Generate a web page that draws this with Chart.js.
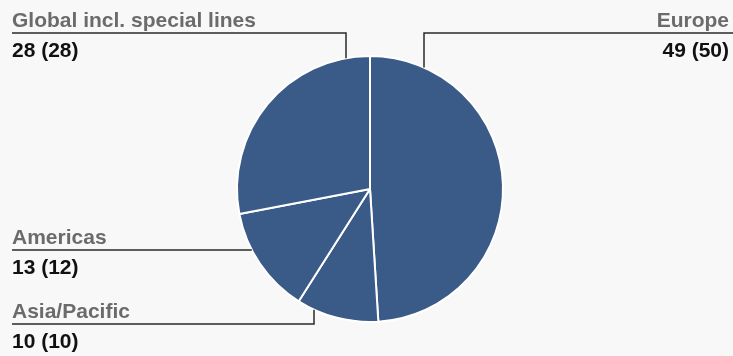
<!DOCTYPE html>
<html>
<head>
<meta charset="utf-8">
<script src="https://cdn.jsdelivr.net/npm/chart.js@4/dist/chart.umd.min.js"></script>
<style>
  html, body { margin: 0; padding: 0; background: #f8f8f8; }
  #wrap { width: 733px; height: 356px; }
</style>
</head>
<body>
<div id="wrap"><canvas id="pie" width="733" height="356"></canvas></div>
<script>
// --- data (share in %, previous year in brackets) ---
const regions = ['Europe', 'Asia/Pacific', 'Americas', 'Global incl. special lines'];
const shares = [49, 10, 13, 28];
const sharesPrev = [50, 10, 12, 28];

// label placement: where the text sits and where the leader bends
const labelLayout = [
    { align: 'right', textX: 729, lineY: 33, lineFrom: 424, elbowX: 424 },   // Europe
    { align: 'left',  textX: 12,  lineY: 324, lineFrom: 12, elbowX: 314 },   // Asia/Pacific
    { align: 'left',  textX: 12,  lineY: 250, lineFrom: 12, elbowX: null },  // Americas
    { align: 'left',  textX: 12,  lineY: 33,  lineFrom: 12, elbowX: 346 }    // Global
];

const leaderLabels = {
    id: 'leaderLabels',
    afterDatasetsDraw(chart) {
        const ctx = chart.ctx;
        const arcs = chart.getDatasetMeta(0).data;
        if (!arcs.length) return;
        const cx = arcs[0].x, cy = arcs[0].y, r = arcs[0].outerRadius;

        ctx.save();
        labelLayout.forEach((lay, i) => {
            const top = lay.lineY < cy;
            let endX, path = [];
            if (lay.elbowX !== null) {
                const dx = lay.elbowX - cx;
                const dy = Math.sqrt(Math.max(r * r - dx * dx, 0));
                const hitY = top ? cy - dy : cy + dy;
                endX = lay.elbowX;
                if (lay.align === 'right') {
                    path = [[733, lay.lineY], [endX, lay.lineY], [endX, hitY]];
                } else {
                    path = [[lay.lineFrom, lay.lineY], [endX, lay.lineY], [endX, hitY]];
                }
            } else {
                const dy = lay.lineY - cy;
                endX = cx - Math.sqrt(Math.max(r * r - dy * dy, 0));
                path = [[lay.lineFrom, lay.lineY], [endX, lay.lineY]];
            }

            ctx.strokeStyle = '#2a2a2a';
            ctx.lineWidth = 1.5;
            ctx.beginPath();
            path.forEach((p, k) => k ? ctx.lineTo(p[0], p[1]) : ctx.moveTo(p[0], p[1]));
            ctx.stroke();

            ctx.textAlign = lay.align;
            ctx.textBaseline = 'alphabetic';
            ctx.font = 'bold 21px "Liberation Sans", Arial, sans-serif';
            ctx.fillStyle = '#6b6b6b';
            ctx.fillText(regions[i], lay.textX, lay.lineY - 6);
            ctx.fillStyle = '#111111';
            ctx.fillText(shares[i] + ' (' + sharesPrev[i] + ')', lay.textX, lay.lineY + 24);
        });
        ctx.restore();
    }
};

new Chart(document.getElementById('pie'), {
    type: 'pie',
    data: {
        labels: regions,
        datasets: [{
            data: shares,
            backgroundColor: '#3a5a88',
            borderColor: '#ffffff',
            borderWidth: 2
        }]
    },
    options: {
        responsive: false,
        animation: false,
        layout: { padding: { top: 55, bottom: 33, left: 100, right: 93 } },
        plugins: {
            legend: { display: false },
            tooltip: { enabled: false }
        }
    },
    plugins: [leaderLabels]
});
</script>
</body>
</html>
